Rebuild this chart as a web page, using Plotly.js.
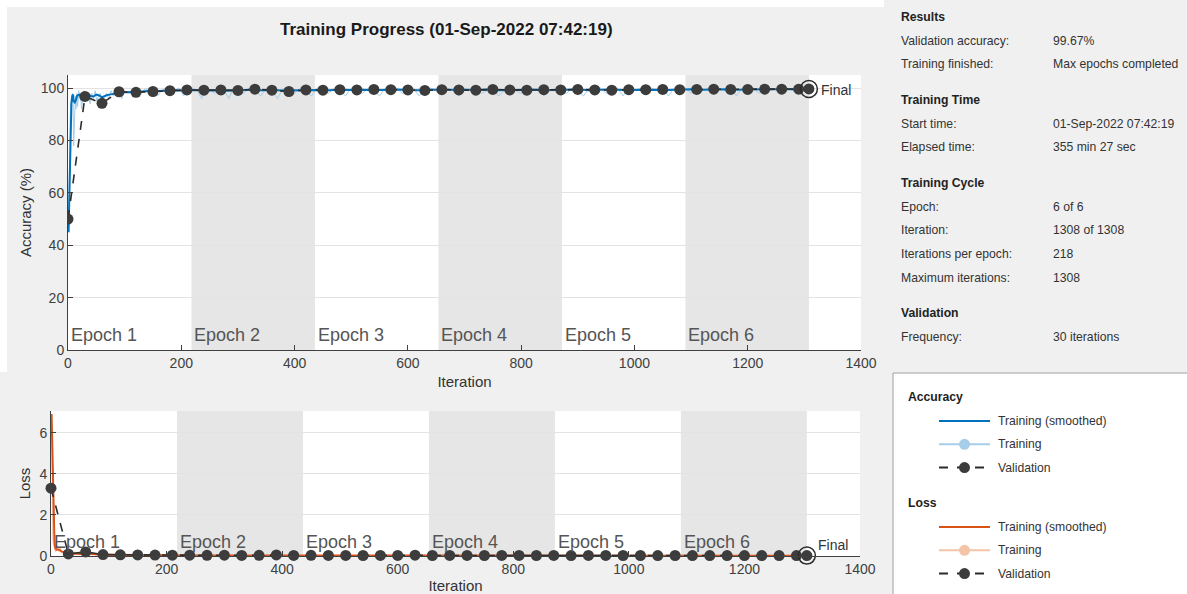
<!DOCTYPE html>
<html>
<head>
<meta charset="utf-8">
<script src="https://cdn.plot.ly/plotly-3.0.1.min.js"></script>
<style>
  html, body { margin: 0; padding: 0; background: #f0f0f0; }
  #chart { width: 1187px; height: 594px; }
</style>
</head>
<body>
<div id="chart"></div>
<script>
// ---------------- DATA ----------------
const epochStarts = [0, 218, 436, 654, 872, 1090];
const epochEnd = 1308;
const epochLabels = ["Epoch 1", "Epoch 2", "Epoch 3", "Epoch 4", "Epoch 5", "Epoch 6"];
const xTicks = [0, 200, 400, 600, 800, 1000, 1200, 1400];
const accTicks = [0, 20, 40, 60, 80, 100];
const lossTicks = [0, 2, 4, 6];

// Training accuracy (raw, light blue)
const accRawIter = [1,2,3,4,5,6,7,8,9,10,11,12,13,14,15,16,17,18,19,20,22,24,26,28,30,33,36,39,42,45,48,51,54,57,60,64,68,72,76,80,85,90,95,100,106,112,118,124,130,137,144,151,158,165,172,180,188,196,204,212,220,228,236,244,252,260,268,276,284,292,300,310,320,330,340,350,360,370,380,390,400,410,420,430,440,450,460,470,480,490,500,510,520,530,540,550,560,570,580,590,600,610,620,630,640,650,660,670,680,690,700,710,720,730,740,750,760,770,780,790,800,810,820,830,840,850,860,870,880,890,900,910,920,930,940,950,960,970,980,990,1000,1010,1020,1030,1040,1050,1060,1070,1080,1090,1100,1110,1120,1130,1140,1150,1160,1170,1180,1190,1200,1210,1220,1230,1240,1250,1260,1270,1280,1290,1300,1308];
const accRaw = [45,62,85,90,93,97,96,98,95,78,88,94,97,92,96,98,93,97,99,96,98,92,97,99,96,98,97,94,98,96,99,95,97,98,94,97,98,96,99,97,98,99,96,99,98,99,97,99,98,100,98,99,97,99,100,98,99,100,97,99,100,99,96,100,99,98,100,99,96,100,99,98,100,99,97,100,99,96,100,99,98,100,99,97,100,99,98,100,99,97,100,99,98,100,99,97,100,99,100,98,99,100,97,99,100,99,98,100,99,97,100,99,100,98,99,100,97,99,100,99,98,100,99,100,97,99,100,99,98,100,99,97,100,99,100,98,99,100,97,100,99,100,98,100,99,100,97,100,99,100,98,100,99,100,98,100,99,100,97,100,99,100,98,100,99,100,98,100,99,100,99,100];

// Training accuracy (smoothed, dark blue)
const accSmIter = [1,2,3,4,5,6,7,8,9,10,12,14,16,18,20,22,24,26,28,30,35,40,45,50,55,60,65,70,75,80,90,100,110,120,130,140,150,160,170,180,190,200,220,240,260,280,300,320,340,360,380,400,420,440,460,480,500,520,540,560,580,600,620,640,660,680,700,720,740,760,780,800,820,840,860,880,900,920,940,960,980,1000,1020,1040,1060,1080,1100,1120,1140,1160,1180,1200,1220,1240,1260,1280,1300,1308];
const accSm = [45,55,72,84,90,94,96,97.5,97.3,95,94.5,95.5,97,97.3,97.5,97,95.5,96.5,98,97.5,97.8,97,96.8,97.5,97.2,96.5,97,97.4,97.6,97.8,98.2,98.4,98.5,98.4,98.7,98.9,98.8,98.9,99.1,99,99.2,99.1,99.3,99.1,99.2,99.0,99.3,99.4,99.2,99.3,99.1,99.2,99.4,99.3,99.2,99.4,99.3,99.4,99.2,99.4,99.5,99.3,99.2,99.4,99.4,99.3,99.2,99.4,99.5,99.2,99.3,99.4,99.5,99.2,99.4,99.4,99.5,99.2,99.4,99.5,99.3,99.4,99.5,99.4,99.3,99.5,99.6,99.4,99.5,99.6,99.4,99.5,99.6,99.5,99.6,99.6,99.5,99.6];

// Training loss (raw, light orange)
const lossRawIter = [1,2,3,4,5,6,7,8,10,12,14,16,18,20,24,28,32,36,40,45,50,55,60,65,70,80,90,100,110,120,140,160,180,200,230,260,290,320,350,380,410,440,470,500,530,560,590,620,650,680,710,740,770,800,830,860,890,920,950,980,1010,1040,1070,1100,1130,1160,1190,1220,1250,1280,1308];
const lossRaw = [6.9,1.4,0.9,0.6,0.4,0.3,0.25,0.2,0.5,0.35,0.2,0.4,0.15,0.2,0.25,0.1,0.15,0.08,0.2,0.12,0.06,0.15,0.2,0.08,0.05,0.1,0.04,0.07,0.03,0.06,0.04,0.02,0.06,0.03,0.01,0.05,0.02,0.04,0.01,0.05,0.02,0.03,0.01,0.04,0.02,0.01,0.04,0.02,0.01,0.03,0.02,0.01,0.04,0.01,0.02,0.03,0.01,0.02,0.01,0.03,0.01,0.02,0.01,0.03,0.01,0.02,0.01,0.02,0.01,0.02,0.01];

// Training loss (smoothed, orange)
const lossSmIter = [1,2,3,4,5,6,7,8,10,12,14,16,18,20,24,28,32,36,40,50,60,70,80,100,120,150,200,250,300,400,500,600,700,800,900,1000,1100,1200,1308];
const lossSm = [6.9,5.5,3.5,2.0,1.2,0.7,0.45,0.35,0.3,0.32,0.3,0.28,0.22,0.2,0.18,0.14,0.12,0.1,0.12,0.1,0.13,0.09,0.07,0.06,0.05,0.04,0.035,0.03,0.03,0.025,0.025,0.02,0.02,0.02,0.02,0.02,0.015,0.015,0.015];

// Validation (every 30 iterations + final)
const valIter = [0,30,60,90,120,150,180,210,240,270,300,330,360,390,420,450,480,510,540,570,600,630,660,690,720,750,780,810,840,870,900,930,960,990,1020,1050,1080,1110,1140,1170,1200,1230,1260,1290,1308];
const valAcc = [50,96.8,94.2,98.6,98.4,98.7,99.0,99.3,99.2,99.3,99.1,99.6,99.2,98.7,99.3,99.2,99.4,99.3,99.5,99.4,99.3,99.1,99.4,99.3,99.2,99.5,99.3,99.2,99.4,99.3,99.5,99.3,99.2,99.4,99.4,99.5,99.4,99.5,99.6,99.5,99.5,99.6,99.6,99.6,99.67];
const valLoss = [3.3,0.1,0.2,0.07,0.06,0.05,0.045,0.04,0.04,0.035,0.04,0.03,0.035,0.05,0.03,0.035,0.03,0.03,0.025,0.03,0.03,0.04,0.025,0.03,0.03,0.025,0.03,0.03,0.025,0.03,0.02,0.03,0.03,0.025,0.025,0.02,0.025,0.02,0.02,0.02,0.02,0.02,0.02,0.02,0.02];

const finalAcc = 99.67;
const finalLoss = 0.02;

const resultsSections = [
  {head: "Results", rows: [["Validation accuracy:", "99.67%"], ["Training finished:", "Max epochs completed"]]},
  {head: "Training Time", rows: [["Start time:", "01-Sep-2022 07:42:19"], ["Elapsed time:", "355 min 27 sec"]]},
  {head: "Training Cycle", rows: [["Epoch:", "6 of 6"], ["Iteration:", "1308 of 1308"], ["Iterations per epoch:", "218"], ["Maximum iterations:", "1308"]]},
  {head: "Validation", rows: [["Frequency:", "30 iterations"]]}
];

// ---------------- STYLE ----------------
const W = 1187, H = 594;
const px = x => x / W;
const py = y => 1 - y / H;
const FONT = "Liberation Sans, Arial, sans-serif";
const AX = "#404040";
const C_BLUE = "#0072BD", C_LBLUE = "#a6cde9";
const C_ORANGE = "#D95319", C_LORANGE = "#f3c4a8";
const C_VAL = "#2b2b2b", C_MARK = "#3c3c3c";
const PFS = 12.2;

const traces = [
  {x: accRawIter, y: accRaw, xaxis: "x", yaxis: "y", mode: "lines", line: {color: C_LBLUE, width: 1}, name: "Training", showlegend: false, hoverinfo: "skip"},
  {x: accSmIter, y: accSm, xaxis: "x", yaxis: "y", mode: "lines", line: {color: C_BLUE, width: 2}, name: "Training (smoothed)", showlegend: false},
  {x: valIter, y: valAcc, xaxis: "x", yaxis: "y", mode: "lines+markers", line: {color: C_VAL, width: 1.6, dash: "dash"}, marker: {color: C_MARK, size: 11}, name: "Validation", showlegend: false},
  {x: [valIter[valIter.length - 1]], y: [finalAcc], xaxis: "x", yaxis: "y", mode: "markers", marker: {symbol: "circle-open", color: C_VAL, size: 17, line: {width: 1.5}}, showlegend: false, cliponaxis: false},

  {x: lossRawIter, y: lossRaw, xaxis: "x2", yaxis: "y2", mode: "lines", line: {color: C_LORANGE, width: 1}, name: "Training", showlegend: false, hoverinfo: "skip"},
  {x: lossSmIter, y: lossSm, xaxis: "x2", yaxis: "y2", mode: "lines", line: {color: C_ORANGE, width: 2}, name: "Training (smoothed)", showlegend: false},
  {x: valIter, y: valLoss, xaxis: "x2", yaxis: "y2", mode: "lines+markers", line: {color: C_VAL, width: 1.6, dash: "dash"}, marker: {color: C_MARK, size: 11}, name: "Validation", showlegend: false, cliponaxis: false},
  {x: [valIter[valIter.length - 1]], y: [finalLoss], xaxis: "x2", yaxis: "y2", mode: "markers", marker: {symbol: "circle-open", color: C_VAL, size: 17, line: {width: 1.5}}, showlegend: false, cliponaxis: false}
];

const shapes = [];
const annotations = [];

// epoch shading (even epochs) and labels
epochStarts.forEach((s, i) => {
  const e = (i + 1 < epochStarts.length) ? epochStarts[i + 1] : epochEnd;
  if (i % 2 === 1) {
    shapes.push({type: "rect", xref: "x", yref: "y domain", x0: s, x1: e, y0: 0, y1: 1, fillcolor: "#e6e6e6", line: {width: 0}, layer: "below"});
    shapes.push({type: "rect", xref: "x2", yref: "y2 domain", x0: s, x1: e, y0: 0, y1: 1, fillcolor: "#e6e6e6", line: {width: 0}, layer: "below"});
  }
  annotations.push({xref: "x", yref: "y", x: s, y: 0, xanchor: "left", yanchor: "bottom", xshift: 1, yshift: 3, showarrow: false, text: epochLabels[i], font: {family: FONT, size: 18, color: "#555"}});
  annotations.push({xref: "x2", yref: "y2", x: s, y: 0, xanchor: "left", yanchor: "bottom", xshift: 1, yshift: 2, showarrow: false, text: epochLabels[i], font: {family: FONT, size: 18, color: "#555"}});
});

// "Final" labels
annotations.push({xref: "x", yref: "y", x: valIter[valIter.length - 1], y: finalAcc, xanchor: "left", yanchor: "middle", xshift: 10, yshift: -1, showarrow: false, text: "Final", font: {family: FONT, size: 14, color: "#333"}});
annotations.push({xref: "x2", yref: "y2", x: valIter[valIter.length - 1], y: 0, xanchor: "left", yanchor: "bottom", xshift: 9, yshift: 1, showarrow: false, text: "Final", font: {family: FONT, size: 14, color: "#333"}});

// Title
annotations.push({xref: "paper", yref: "paper", x: px(446), y: py(30), xanchor: "center", yanchor: "middle", showarrow: false, text: "<b>Training Progress (01-Sep-2022 07:42:19)</b>", font: {family: "Liberation Sans Narrow, Arial Narrow, " + FONT, size: 17, color: "#1a1a1a"}});

// white screenshot border strips
shapes.push({type: "rect", xref: "paper", yref: "paper", x0: 0, x1: px(884), y0: py(7), y1: 1, fillcolor: "#ffffff", line: {width: 0}, layer: "below"});
shapes.push({type: "rect", xref: "paper", yref: "paper", x0: 0, x1: px(7), y0: py(372), y1: 1, fillcolor: "#ffffff", line: {width: 0}, layer: "below"});

// Results panel
const rowY = {"Results": 17, "Training Time": 100, "Training Cycle": 183, "Validation": 313};
resultsSections.forEach(sec => {
  let y = rowY[sec.head];
  annotations.push({xref: "paper", yref: "paper", x: px(899), y: py(y), xanchor: "left", yanchor: "middle", showarrow: false, text: "<b>" + sec.head + "</b>", font: {family: FONT, size: PFS, color: "#222"}});
  sec.rows.forEach(r => {
    y += 23.7;
    annotations.push({xref: "paper", yref: "paper", x: px(899), y: py(y), xanchor: "left", yanchor: "middle", showarrow: false, text: r[0], font: {family: FONT, size: PFS, color: "#333"}});
    annotations.push({xref: "paper", yref: "paper", x: px(1051), y: py(y), xanchor: "left", yanchor: "middle", showarrow: false, text: r[1], font: {family: FONT, size: PFS, color: "#333"}});
  });
});

// Legend box
shapes.push({type: "rect", xref: "paper", yref: "paper", x0: px(893), x1: px(1190), y0: py(597), y1: py(373), fillcolor: "#ffffff", line: {color: "#a0a0a0", width: 1}});
const legGroups = [
  {head: "Accuracy", y: 397, items: [["Training (smoothed)", C_BLUE, "solid", false, null], ["Training", C_LBLUE, "solid", true, C_LBLUE], ["Validation", C_VAL, "dash", true, C_MARK]]},
  {head: "Loss", y: 503, items: [["Training (smoothed)", C_ORANGE, "solid", false, null], ["Training", C_LORANGE, "solid", true, C_LORANGE], ["Validation", C_VAL, "dash", true, C_MARK]]}
];
legGroups.forEach(g => {
  annotations.push({xref: "paper", yref: "paper", x: px(906), y: py(g.y), xanchor: "left", yanchor: "middle", showarrow: false, text: "<b>" + g.head + "</b>", font: {family: FONT, size: PFS, color: "#222"}});
  g.items.forEach((it, k) => {
    const yy = g.y + 24 + k * 23.3;
    shapes.push({type: "line", xref: "paper", yref: "paper", x0: px(939), x1: px(it[2] === "dash" ? 993 : 990), y0: py(yy), y1: py(yy), line: {color: it[1], width: 2, dash: it[2] === "dash" ? "dash" : "solid"}});
    if (it[3]) {
      shapes.push({type: "circle", xref: "paper", yref: "paper", x0: px(959), x1: px(970), y0: py(yy + 5.5), y1: py(yy - 5.5), fillcolor: it[4], line: {color: it[4], width: 0}});
    }
    annotations.push({xref: "paper", yref: "paper", x: px(996), y: py(yy), xanchor: "left", yanchor: "middle", showarrow: false, text: it[0], font: {family: FONT, size: PFS, color: "#333"}});
  });
});

const axisCommon = {
  ticks: "inside", ticklen: 5, tickwidth: 1, tickcolor: AX,
  showline: true, linecolor: AX, linewidth: 1, zeroline: false,
  tickfont: {family: FONT, size: 14, color: AX}, mirror: false, fixedrange: true
};

const layout = {
  width: W, height: H, autosize: false,
  margin: {l: 0, r: 0, t: 0, b: 0},
  paper_bgcolor: "#f0f0f0", plot_bgcolor: "#ffffff",
  showlegend: false,
  xaxis: Object.assign({}, axisCommon, {domain: [px(68), px(861)], range: [0, 1400], anchor: "y", tickvals: xTicks, showgrid: false,
    title: {text: "Iteration", font: {family: FONT, size: 15, color: "#333"}, standoff: 6}}),
  yaxis: Object.assign({}, axisCommon, {domain: [py(350), py(75)], range: [0, 105], anchor: "x", tickvals: accTicks, showgrid: true, gridcolor: "#e3e3e3", gridwidth: 1,
    title: {text: "Accuracy (%)", font: {family: FONT, size: 15, color: "#333"}, standoff: 5}}),
  xaxis2: Object.assign({}, axisCommon, {domain: [px(51), px(860)], range: [0, 1400], anchor: "y2", tickvals: xTicks, showgrid: false,
    title: {text: "Iteration", font: {family: FONT, size: 15, color: "#333"}, standoff: 6}}),
  yaxis2: Object.assign({}, axisCommon, {domain: [py(556), py(411)], range: [0, 7.05], anchor: "x2", tickvals: lossTicks, showgrid: true, gridcolor: "#e3e3e3", gridwidth: 1,
    title: {text: "Loss", font: {family: FONT, size: 15, color: "#333"}, standoff: 5}}),
  shapes: shapes,
  annotations: annotations
};

Plotly.newPlot("chart", traces, layout, {staticPlot: true, displayModeBar: false});
</script>
</body>
</html>
